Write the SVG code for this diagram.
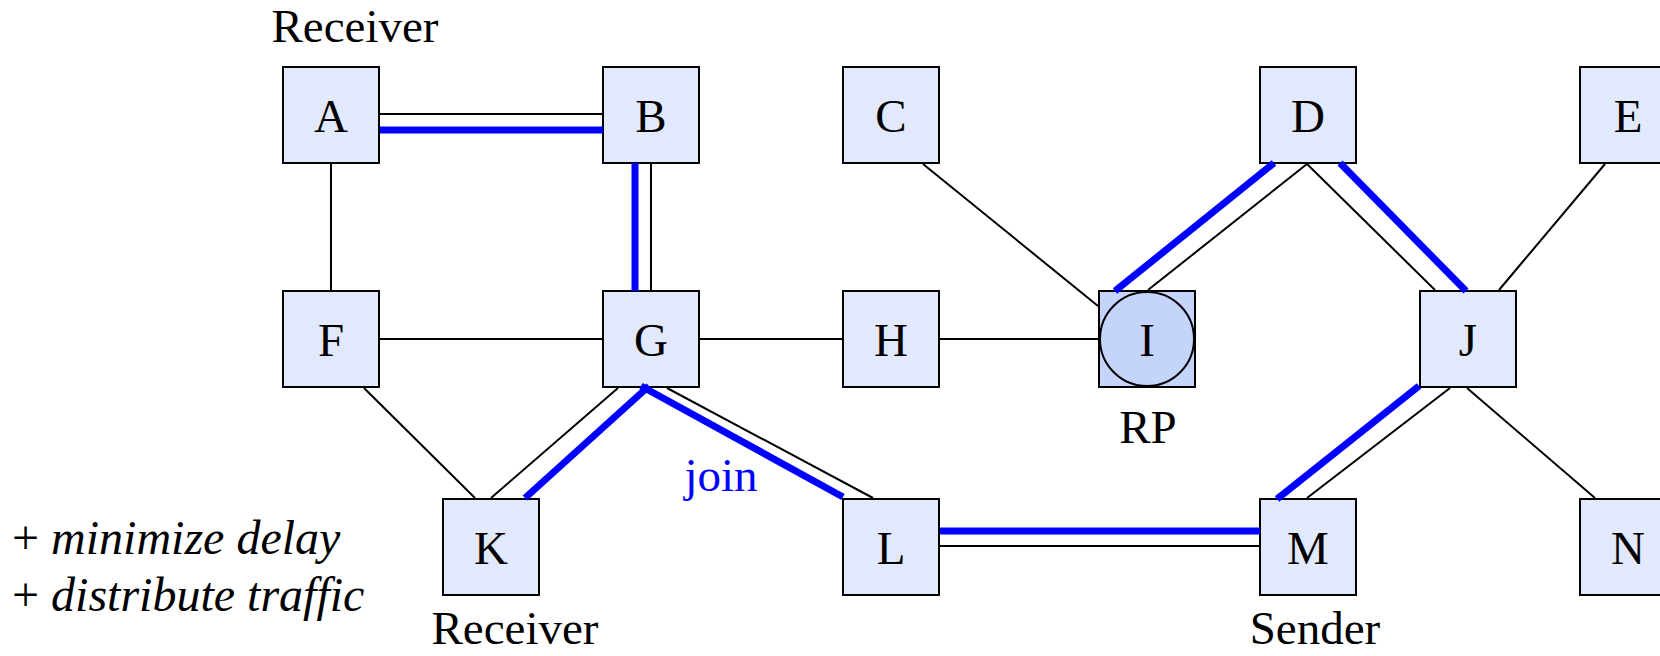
<svg xmlns="http://www.w3.org/2000/svg" width="1660" height="656" viewBox="0 0 1660 656">
<style>
.box{fill:#e3e9fc;stroke:#000;stroke-width:2}
.rp{fill:#c4d4fb;stroke:#000;stroke-width:2}
.lbl{font-family:"Liberation Serif","Times New Roman",serif;font-size:47px;fill:#000;text-anchor:middle}
.ln{stroke:#000;stroke-width:2;fill:none}
.bl{stroke:#0000ff;stroke-width:7;fill:none}
.note{font-family:"Liberation Serif","Times New Roman",serif;font-size:48px;fill:#000}
</style>
<rect width="1660" height="656" fill="#fff"/>
<g id="nodes">
<g id="A"><rect class="box" x="283" y="67" width="96" height="96"/><text class="lbl" x="331" y="132">A</text></g>
<g id="B"><rect class="box" x="603" y="67" width="96" height="96"/><text class="lbl" x="651" y="132">B</text></g>
<g id="C"><rect class="box" x="843" y="67" width="96" height="96"/><text class="lbl" x="891" y="132">C</text></g>
<g id="D"><rect class="box" x="1260" y="67" width="96" height="96"/><text class="lbl" x="1308" y="132">D</text></g>
<g id="E"><rect class="box" x="1580" y="67" width="96" height="96"/><text class="lbl" x="1628" y="132">E</text></g>
<g id="F"><rect class="box" x="283" y="291" width="96" height="96"/><text class="lbl" x="331" y="356">F</text></g>
<g id="G"><rect class="box" x="603" y="291" width="96" height="96"/><text class="lbl" x="651" y="356">G</text></g>
<g id="H"><rect class="box" x="843" y="291" width="96" height="96"/><text class="lbl" x="891" y="356">H</text></g>
<g id="I"><rect class="rp" x="1099" y="291" width="96" height="96"/><circle class="rp" cx="1147" cy="339" r="47"/><text class="lbl" x="1147" y="356">I</text></g>
<g id="J"><rect class="box" x="1420" y="291" width="96" height="96"/><text class="lbl" x="1468" y="356">J</text></g>
<g id="K"><rect class="box" x="443" y="499" width="96" height="96"/><text class="lbl" x="491" y="564">K</text></g>
<g id="L"><rect class="box" x="843" y="499" width="96" height="96"/><text class="lbl" x="891" y="564">L</text></g>
<g id="M"><rect class="box" x="1260" y="499" width="96" height="96"/><text class="lbl" x="1308" y="564">M</text></g>
<g id="N"><rect class="box" x="1580" y="499" width="96" height="96"/><text class="lbl" x="1628" y="564">N</text></g>
</g>
<g id="connectors">
<line class="ln" x1="380" y1="114" x2="603" y2="114"/>
<line class="bl" x1="380" y1="130" x2="603" y2="130"/>
<line class="ln" x1="331" y1="164" x2="331" y2="290"/>
<line class="bl" x1="635" y1="163" x2="635" y2="291"/>
<line class="ln" x1="651" y1="164" x2="651" y2="290"/>
<line class="ln" x1="380" y1="339" x2="602" y2="339"/>
<line class="ln" x1="700" y1="339" x2="842" y2="339"/>
<line class="ln" x1="940" y1="339" x2="1098" y2="339"/>
<line class="ln" x1="923" y1="164" x2="1098" y2="306"/>
<line class="bl" x1="1274" y1="163" x2="1115" y2="291"/>
<line class="ln" x1="1307" y1="164" x2="1148" y2="290"/>
<line class="ln" x1="1307" y1="164" x2="1435" y2="290"/>
<line class="bl" x1="1340" y1="163" x2="1466" y2="291"/>
<line class="ln" x1="1605" y1="164" x2="1499" y2="290"/>
<line class="ln" x1="1467" y1="388" x2="1595" y2="498"/>
<line class="bl" x1="1419" y1="386" x2="1277" y2="499"/>
<line class="ln" x1="1450" y1="388" x2="1307" y2="498"/>
<line class="bl" x1="940" y1="531" x2="1260" y2="531"/>
<line class="ln" x1="940" y1="546" x2="1259" y2="546"/>
<line class="ln" x1="667" y1="388" x2="873" y2="498"/>
<line class="bl" x1="641" y1="386" x2="843" y2="497"/>
<line class="ln" x1="618" y1="388" x2="491" y2="498"/>
<line class="bl" x1="649" y1="386" x2="525" y2="498"/>
<line class="ln" x1="364" y1="388" x2="475" y2="498"/>
</g>
<g id="labels">
<text class="lbl" x="355" y="42">Receiver</text>
<text class="lbl" x="515" y="644">Receiver</text>
<text class="lbl" x="1315" y="644">Sender</text>
<text class="lbl" x="1148" y="443">RP</text>
<text class="lbl" x="721" y="491" style="fill:#0000ff">join</text>
<text class="note" x="12" y="554">+ <tspan font-style="italic">minimize delay</tspan></text>
<text class="note" x="12" y="611">+ <tspan font-style="italic">distribute traffic</tspan></text>
</g>
</svg>
